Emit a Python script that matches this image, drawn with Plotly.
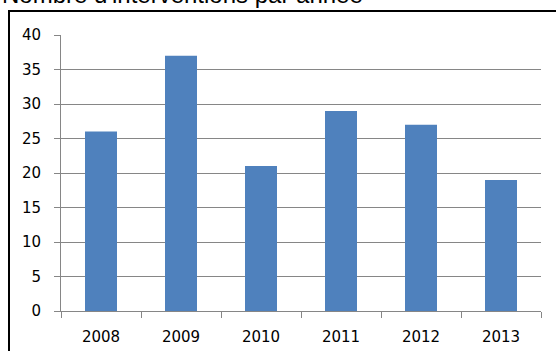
import plotly.graph_objects as go

years = ["2008", "2009", "2010", "2011", "2012", "2013"]
interventions = [26, 37, 21, 29, 27, 19]
y_ticks = [0, 5, 10, 15, 20, 25, 30, 35, 40]
title_text = "Nombre d'interventions par année"

W, H = 556, 351
ml, mr, mt, mb = 61, 15, 35, 40
pw, ph = W - ml - mr, H - mt - mb

fig = go.Figure()
fig.add_trace(go.Bar(x=years, y=interventions, marker_color="#4F81BD",
                     marker_line_width=0, width=0.4))

fig.update_layout(
    width=W, height=H,
    margin=dict(l=ml, r=mr, t=mt, b=mb, pad=0, autoexpand=False),
    paper_bgcolor="white", plot_bgcolor="white",
    showlegend=False,
    font=dict(family="DejaVu Sans", size=15, color="#000000"),
    xaxis=dict(showgrid=False, showline=True, linecolor="#868686", linewidth=1,
               ticks="outside", ticklen=6, tickcolor="#868686", automargin=False,
               tickson="boundaries", tickfont=dict(size=15), ticklabelstandoff=12),
    yaxis=dict(range=[0, 40], tickvals=y_ticks, showgrid=True, gridcolor="#868686",
               gridwidth=1, showline=True, linecolor="#868686", linewidth=1,
               ticks="outside", ticklen=6, tickcolor="#868686", zeroline=False,
               automargin=False, tickfont=dict(size=15), ticklabelstandoff=10),
    shapes=[dict(type="rect", xref="paper", yref="paper",
                 x0=(9 - ml) / pw, x1=(W + 10 - ml) / pw,
                 y0=(H - mb - (H + 10)) / ph, y1=(H - mb - 11) / ph,
                 line=dict(color="#000000", width=2), fillcolor="rgba(0,0,0,0)")],
    annotations=[dict(text=title_text, xref="paper", yref="paper",
                      x=(0 - ml) / pw, y=(H - mb - 10) / ph,
                      xanchor="left", yanchor="bottom", showarrow=False,
                      font=dict(family="Liberation Sans", size=24, color="#000000"))],
)

fig.write_html("out.html")
